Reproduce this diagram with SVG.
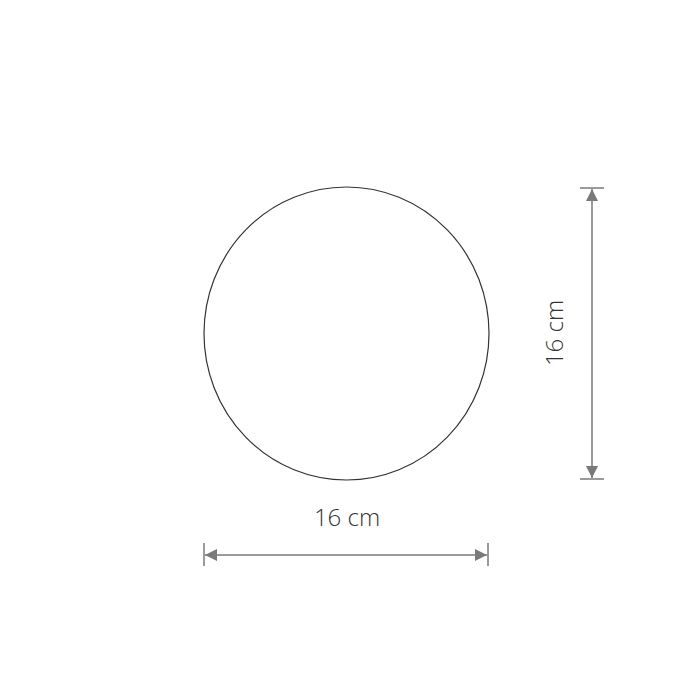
<svg xmlns="http://www.w3.org/2000/svg" width="700" height="700" viewBox="0 0 700 700">
<style>
.dim{stroke:#7a7a7a;stroke-width:1.5;fill:none}
.lbl{font-family:"Open Sans","Liberation Sans",sans-serif;font-weight:300;font-size:24px;fill:#333;text-anchor:middle}
</style>
<defs>
<marker id="ah" viewBox="0 0 12 12" refX="12" refY="6" markerWidth="12" markerHeight="12" markerUnits="userSpaceOnUse" orient="auto-start-reverse">
<path d="M0,0 L12,6 L0,12 Z" fill="#7a7a7a"/>
</marker>
</defs>
<rect width="700" height="700" fill="#fff"/>
<g id="disc">
<ellipse cx="346.5" cy="333.5" rx="142.5" ry="146.5" fill="none" stroke="#333" stroke-width="1.2"/>
</g>
<g id="connectors">
<line class="dim" x1="204" y1="543" x2="204" y2="566"/>
<line class="dim" x1="488" y1="543" x2="488" y2="566"/>
<line class="dim" x1="205" y1="555" x2="487" y2="555" marker-start="url(#ah)" marker-end="url(#ah)"/>
<line class="dim" x1="580" y1="188" x2="604" y2="188"/>
<line class="dim" x1="580" y1="479" x2="604" y2="479"/>
<line class="dim" x1="592" y1="189" x2="592" y2="478" marker-start="url(#ah)" marker-end="url(#ah)"/>
</g>
<g id="label-width">
<text class="lbl" x="347" y="526">16 cm</text>
</g>
<g id="label-height">
<text class="lbl" transform="translate(563,333) rotate(-90)" x="0" y="0">16 cm</text>
</g>
</svg>
